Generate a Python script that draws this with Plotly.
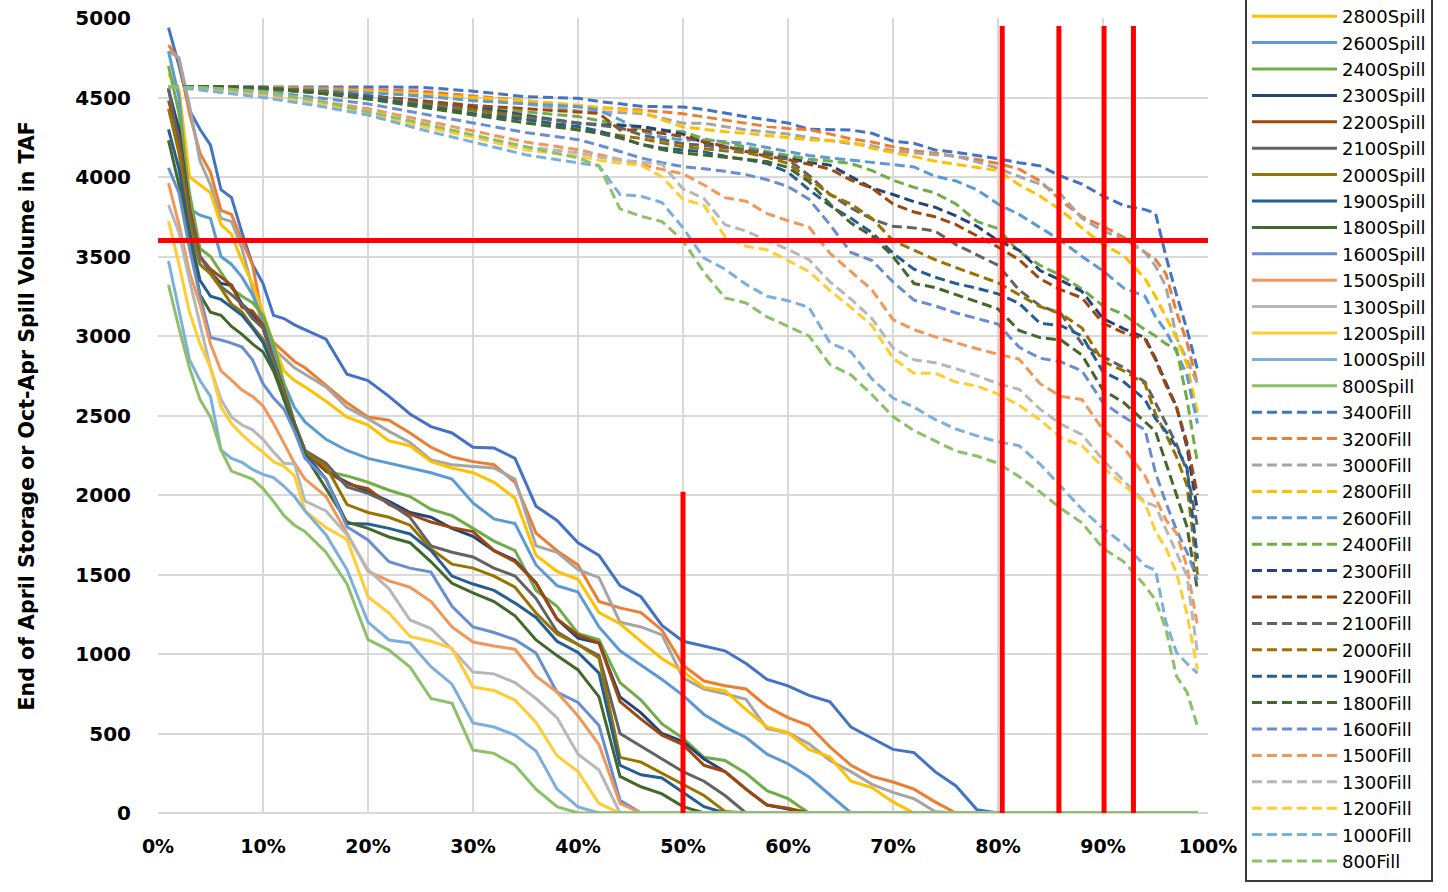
import plotly.graph_objects as go

# ---------------- data ----------------
LEVELS = ["3400", "3200", "3000", "2800", "2600", "2400", "2300", "2200", "2100",
          "2000", "1900", "1800", "1600", "1500", "1300", "1200", "1000", "800"]
COLORS = ["#4472C4", "#ED7D31", "#A5A5A5", "#FFC000", "#5B9BD5", "#70AD47", "#264478",
          "#9E480E", "#636363", "#997300", "#255E91", "#43682B", "#698ED0", "#F1975A",
          "#B7B7B7", "#FFCD33", "#7CAFDD", "#8CC168"]
HIDDEN_LEGEND = ["3400Spill", "3200Spill", "3000Spill"]

# exceedance percent (x) for Spill curves
X_SPILL = [1, 2, 3, 4, 5, 6, 7, 8, 9, 10, 11, 12, 13, 14,
           16, 18, 20, 22, 24, 26, 28, 30, 32, 34, 36, 38, 40, 42, 44, 46, 48, 50,
           52, 54, 56, 58, 60, 62, 64, 66, 68, 70, 72, 74, 76, 78, 80, 99]

SPILL_3400 = [4940, 4700, 4420, 4300, 4200, 3920, 3870, 3650, 3450, 3330, 3130, 3110, 3070, 3040,
              2980, 2760, 2720, 2620, 2510, 2430, 2390, 2300, 2296, 2230, 1930, 1840, 1700, 1620, 1430, 1360, 1180, 1080,
              1050, 1020, 940, 840, 800, 740, 700, 540, 470, 400, 380, 260, 170, 20, 0, 0]
SPILL_3200 = [4830, 4740, 4400, 4150, 4030, 3790, 3765, 3600, 3450, 3100, 2960, 2900, 2840, 2800,
              2690, 2580, 2490, 2470, 2390, 2300, 2240, 2210, 2190, 2080, 1760, 1650, 1560, 1330, 1290, 1260, 1150, 930,
              830, 800, 780, 670, 600, 550, 415, 300, 230, 195, 150, 70, 0, 0, 0, 0]
SPILL_3000 = [4790, 4750, 4450, 4100, 3950, 3740, 3720, 3550, 3300, 3050, 2920, 2860, 2800, 2760,
              2680, 2550, 2480, 2400, 2330, 2220, 2190, 2180, 2170, 2100, 1680, 1640, 1530, 1480, 1200, 1170, 1120, 850,
              780, 750, 715, 530, 505, 435, 330, 260, 180, 130, 90, 10, 0, 0, 0, 0]
SPILL_2800 = [4650, 4550, 4000, 3950, 3900, 3700, 3640, 3470, 3330, 3150, 2950, 2780, 2720, 2680,
              2590, 2490, 2440, 2340, 2310, 2210, 2170, 2140, 2080, 1980, 1620, 1520, 1470, 1260, 1190, 1080, 970, 890,
              790, 770, 650, 541, 505, 400, 352, 200, 160, 70, 0, 0, 0, 0, 0, 0]
SPILL_2600 = [4790, 4500, 3800, 3760, 3740, 3500, 3450, 3370, 3260, 3100, 2900, 2700, 2550, 2460,
              2350, 2280, 2230, 2200, 2170, 2140, 2100, 1950, 1850, 1820, 1560, 1430, 1390, 1170, 1020, 930, 840, 740,
              620, 540, 475, 370, 310, 226, 110, 0, 0, 0, 0, 0, 0, 0, 0, 0]
SPILL_2400 = [4700, 4400, 3900, 3550, 3500, 3400, 3300, 3250, 3210, 3130, 2950, 2700, 2450, 2260,
              2150, 2120, 2080, 2030, 1990, 1910, 1870, 1790, 1710, 1650, 1400, 1300, 1130, 1090, 820, 710, 560, 470,
              350, 330, 250, 140, 90, 0, 0, 0, 0, 0, 0, 0, 0, 0, 0, 0]
SPILL_2300 = [4550, 4300, 3800, 3500, 3400, 3330, 3320, 3200, 3140, 3050, 2850, 2650, 2450, 2280,
              2150, 2080, 2020, 1960, 1890, 1860, 1790, 1740, 1650, 1590, 1447, 1220, 1100, 1069, 730, 630, 500, 450,
              340, 260, 150, 50, 25, 0, 0, 0, 0, 0, 0, 0, 0, 0, 0, 0]
SPILL_2200 = [4480, 4250, 3800, 3500, 3420, 3370, 3320, 3180, 3157, 3070, 2850, 2650, 2450, 2280,
              2150, 2070, 2040, 1940, 1880, 1830, 1795, 1770, 1650, 1580, 1447, 1220, 1120, 1070, 700, 590, 490, 430,
              300, 260, 150, 50, 30, 0, 0, 0, 0, 0, 0, 0, 0, 0, 0, 0]
SPILL_2100 = [4560, 4200, 3750, 3500, 3400, 3310, 3260, 3200, 3110, 3050, 2850, 2650, 2450, 2280,
              2200, 2050, 2010, 1950, 1860, 1680, 1640, 1610, 1540, 1490, 1350, 1140, 1060, 990, 500, 420, 340, 260,
              200, 110, 0, 0, 0, 0, 0, 0, 0, 0, 0, 0, 0, 0, 0, 0]
SPILL_2000 = [4430, 4150, 3700, 3450, 3390, 3300, 3200, 3150, 3060, 2980, 2820, 2620, 2420, 2270,
              2180, 1940, 1890, 1860, 1810, 1660, 1565, 1540, 1490, 1420, 1258, 1125, 1060, 975, 350, 320, 250, 180,
              110, 10, 0, 0, 0, 0, 0, 0, 0, 0, 0, 0, 0, 0, 0, 0]
SPILL_1900 = [4300, 4050, 3650, 3350, 3250, 3230, 3180, 3130, 3050, 2960, 2800, 2600, 2420, 2260,
              2100, 1820, 1818, 1790, 1755, 1650, 1490, 1440, 1400, 1320, 1230, 1080, 1010, 880, 300, 240, 220, 130,
              40, 0, 0, 0, 0, 0, 0, 0, 0, 0, 0, 0, 0, 0, 0, 0]
SPILL_1800 = [4230, 3950, 3600, 3260, 3150, 3130, 3060, 3010, 2950, 2900, 2780, 2600, 2420, 2250,
              2040, 1830, 1790, 1736, 1700, 1580, 1445, 1384, 1330, 1240, 1088, 990, 900, 730, 230, 165, 120, 40,
              0, 0, 0, 0, 0, 0, 0, 0, 0, 0, 0, 0, 0, 0, 0, 0]
SPILL_1600 = [4057, 3900, 3550, 3250, 2990, 2975, 2955, 2930, 2850, 2700, 2610, 2540, 2400, 2230,
              2100, 1800, 1717, 1580, 1540, 1515, 1300, 1170, 1135, 1090, 1006, 760, 695, 550, 80, 0, 0, 0,
              0, 0, 0, 0, 0, 0, 0, 0, 0, 0, 0, 0, 0, 0, 0, 0]
SPILL_1500 = [3962, 3700, 3400, 3200, 2950, 2780, 2723, 2660, 2620, 2560, 2450, 2320, 2200, 2100,
              1990, 1760, 1520, 1460, 1420, 1330, 1170, 1075, 1050, 1030, 860, 760, 610, 430, 60, 0, 0, 0,
              0, 0, 0, 0, 0, 0, 0, 0, 0, 0, 0, 0, 0, 0, 0, 0]
SPILL_1300 = [3824, 3650, 3350, 3080, 2800, 2600, 2490, 2440, 2410, 2350, 2270, 2200, 2196, 1962,
              1900, 1750, 1530, 1410, 1214, 1160, 1030, 887, 875, 820, 720, 600, 370, 270, 0, 0, 0, 0,
              0, 0, 0, 0, 0, 0, 0, 0, 0, 0, 0, 0, 0, 0, 0, 0]
SPILL_1200 = [3723, 3450, 3150, 2950, 2800, 2553, 2450, 2380, 2320, 2270, 2210, 2180, 2120, 1900,
              1795, 1720, 1360, 1258, 1110, 1080, 1035, 792, 770, 710, 570, 360, 260, 60, 0, 0, 0, 0,
              0, 0, 0, 0, 0, 0, 0, 0, 0, 0, 0, 0, 0, 0, 0, 0]
SPILL_1000 = [3472, 3150, 2850, 2720, 2620, 2283, 2230, 2205, 2160, 2130, 2110, 2055, 1990, 1900,
              1750, 1530, 1200, 1088, 1069, 920, 810, 566, 541, 490, 390, 150, 38, 0, 0, 0, 0, 0,
              0, 0, 0, 0, 0, 0, 0, 0, 0, 0, 0, 0, 0, 0, 0, 0]
SPILL_800 = [3321, 3050, 2800, 2600, 2490, 2283, 2150, 2126, 2100, 2040, 1960, 1870, 1810, 1770,
             1640, 1440, 1090, 1025, 918, 720, 690, 396, 375, 300, 150, 40, 0, 0, 0, 0, 0, 0,
             0, 0, 0, 0, 0, 0, 0, 0, 0, 0, 0, 0, 0, 0, 0, 0]

# exceedance percent (x) for Fill curves
X_FILL = [1, 5, 10, 15, 20, 25, 30, 35, 40,
          42, 44, 46, 48, 50, 52, 54, 56, 58, 60, 62, 64, 66, 68, 70, 72, 74, 76, 78, 80,
          82, 84, 86, 88, 90, 92, 94, 95, 96, 97, 98, 99]

FILL_3400 = [4568, 4568, 4568, 4568, 4568, 4565, 4540, 4505, 4495,
             4475, 4460, 4445, 4442, 4440, 4425, 4400, 4379, 4360, 4340, 4300, 4296, 4296, 4275, 4225, 4212, 4170, 4155, 4135, 4115,
             4090, 4070, 4005, 3955, 3880, 3820, 3795, 3772, 3500, 3260, 3040, 2790]
FILL_3200 = [4568, 4568, 4565, 4560, 4550, 4540, 4510, 4480, 4445,
             4435, 4430, 4422, 4410, 4398, 4378, 4358, 4338, 4318, 4305, 4298, 4270, 4240, 4220, 4190, 4165, 4150, 4130, 4110, 4085,
             4050, 3975, 3850, 3750, 3690, 3620, 3530, 3480, 3390, 3150, 2960, 2700]
FILL_3000 = [4568, 4568, 4560, 4550, 4540, 4520, 4490, 4460, 4415,
             4410, 4405, 4400, 4370, 4338, 4338, 4318, 4296, 4285, 4270, 4248, 4228, 4210, 4196, 4165, 4152, 4140, 4130, 4095, 4055,
             4003, 3955, 3890, 3740, 3660, 3610, 3525, 3440, 3311, 2990, 2850, 2700]
FILL_2800 = [4568, 4568, 4560, 4550, 4540, 4520, 4500, 4480, 4452,
             4440, 4425, 4411, 4360, 4315, 4300, 4285, 4275, 4262, 4250, 4235, 4228, 4220, 4180, 4155, 4128, 4100, 4078, 4060, 4040,
             3952, 3880, 3790, 3680, 3575, 3505, 3360, 3248, 3122, 2990, 2820, 2514]
FILL_2600 = [4568, 4568, 4560, 4550, 4530, 4510, 4480, 4460, 4442,
             4421, 4360, 4290, 4250, 4233, 4233, 4222, 4212, 4185, 4160, 4135, 4120, 4108, 4092, 4078, 4063, 4005, 3975, 3920, 3830,
             3765, 3680, 3600, 3500, 3410, 3300, 3250, 3122, 3030, 2900, 2750, 2450]
FILL_2400 = [4568, 4560, 4550, 4530, 4500, 4470, 4440, 4410, 4380,
             4355, 4330, 4305, 4295, 4285, 4240, 4215, 4190, 4160, 4135, 4112, 4100, 4085, 4040, 3980, 3935, 3900, 3830, 3720, 3675,
             3530, 3445, 3380, 3295, 3190, 3135, 3040, 3000, 2950, 2920, 2600, 2200]
FILL_2300 = [4568, 4568, 4560, 4540, 4510, 4480, 4440, 4390, 4338,
             4330, 4325, 4318, 4295, 4270, 4215, 4190, 4170, 4145, 4120, 4092, 4075, 4000, 3930, 3890, 3845, 3810, 3755, 3690, 3600,
             3540, 3412, 3350, 3280, 3110, 3045, 2990, 2860, 2703, 2556, 2300, 1900]
FILL_2200 = [4568, 4568, 4560, 4540, 4510, 4480, 4450, 4430, 4411,
             4400, 4296, 4296, 4275, 4254, 4220, 4193, 4160, 4130, 4110, 4080, 4050, 3980, 3930, 3830, 3780, 3750, 3700, 3630, 3560,
             3480, 3360, 3290, 3240, 3080, 3020, 2980, 2850, 2690, 2550, 2330, 2000]
FILL_2100 = [4568, 4568, 4560, 4540, 4510, 4470, 4430, 4380, 4338,
             4325, 4310, 4265, 4235, 4210, 4198, 4185, 4172, 4150, 4110, 4010, 3890, 3805, 3735, 3690, 3680, 3660, 3575, 3510, 3445,
             3290, 3190, 3140, 2950, 2870, 2800, 2710, 2580, 2450, 2320, 2150, 1800]
FILL_2000 = [4568, 4568, 4560, 4540, 4500, 4460, 4420, 4370, 4298,
             4280, 4262, 4242, 4215, 4190, 4178, 4165, 4152, 4125, 4085, 3990, 3890, 3830, 3740, 3600, 3540, 3480, 3430, 3380, 3335,
             3260, 3185, 3140, 3050, 2840, 2780, 2700, 2510, 2380, 2240, 2060, 1500]
FILL_1900 = [4568, 4568, 4560, 4530, 4500, 4450, 4400, 4360, 4317,
             4290, 4250, 4205, 4182, 4170, 4158, 4130, 4110, 4085, 4030, 3920, 3820, 3740, 3650, 3520, 3420, 3370, 3330, 3300, 3265,
             3206, 3080, 3065, 3000, 2775, 2710, 2600, 2480, 2400, 2300, 2170, 1600]
FILL_1800 = [4568, 4568, 4560, 4530, 4490, 4440, 4390, 4340, 4296,
             4275, 4245, 4205, 4172, 4150, 4138, 4125, 4110, 4097, 4060, 3970, 3830, 3710, 3630, 3500, 3330, 3305, 3260, 3215, 3170,
             3035, 2990, 2975, 2880, 2660, 2580, 2460, 2400, 2200, 2000, 1800, 1400]
FILL_1600 = [4568, 4560, 4540, 4500, 4460, 4400, 4340, 4280, 4235,
             4200, 4160, 4120, 4090, 4065, 4052, 4036, 4015, 3983, 3940, 3860, 3700, 3525, 3475, 3340, 3225, 3190, 3145, 3110, 3075,
             2930, 2860, 2838, 2780, 2580, 2490, 2410, 2140, 1950, 1780, 1640, 1465]
FILL_1500 = [4568, 4550, 4520, 4480, 4430, 4360, 4290, 4220, 4172,
             4140, 4110, 4080, 4048, 4020, 3950, 3870, 3848, 3770, 3725, 3685, 3520, 3405, 3290, 3103, 3040, 2995, 2955, 2920, 2885,
             2855, 2700, 2620, 2600, 2410, 2295, 2120, 1980, 1843, 1759, 1549, 1174]
FILL_1300 = [4568, 4550, 4510, 4470, 4410, 4330, 4260, 4190, 4152,
             4125, 4105, 4095, 4080, 3925, 3865, 3700, 3660, 3605, 3545, 3480, 3340, 3232, 3110, 2925, 2850, 2832, 2795, 2750, 2700,
             2665, 2540, 2445, 2380, 2220, 2090, 1955, 1930, 1780, 1633, 1490, 1006]
FILL_1200 = [4568, 4545, 4505, 4460, 4400, 4320, 4250, 4170, 4131,
             4105, 4087, 4075, 4000, 3860, 3822, 3625, 3564, 3542, 3475, 3405, 3285, 3180, 3065, 2860, 2766, 2766, 2710, 2685, 2635,
             2565, 2472, 2360, 2310, 2175, 2060, 1950, 1770, 1665, 1510, 1250, 902]
FILL_1000 = [4568, 4540, 4500, 4450, 4390, 4300, 4220, 4140, 4089,
             4070, 3890, 3879, 3840, 3680, 3490, 3420, 3325, 3250, 3222, 3180, 2957, 2900, 2730, 2610, 2553, 2475, 2415, 2372, 2335,
             2310, 2195, 2050, 1910, 1790, 1690, 1555, 1528, 1200, 1010, 940, 880]
FILL_800 = [4568, 4560, 4535, 4485, 4410, 4340, 4265, 4190, 4120,
            4070, 3800, 3753, 3720, 3600, 3400, 3240, 3208, 3120, 3061, 3000, 2820, 2755, 2630, 2493, 2405, 2340, 2276, 2245, 2200,
            2116, 2020, 1915, 1825, 1665, 1580, 1430, 1340, 1153, 860, 760, 545]

SPILL_SERIES = [SPILL_3400, SPILL_3200, SPILL_3000, SPILL_2800, SPILL_2600, SPILL_2400,
                SPILL_2300, SPILL_2200, SPILL_2100, SPILL_2000, SPILL_1900, SPILL_1800,
                SPILL_1600, SPILL_1500, SPILL_1300, SPILL_1200, SPILL_1000, SPILL_800]
FILL_SERIES = [FILL_3400, FILL_3200, FILL_3000, FILL_2800, FILL_2600, FILL_2400,
               FILL_2300, FILL_2200, FILL_2100, FILL_2000, FILL_1900, FILL_1800,
               FILL_1600, FILL_1500, FILL_1300, FILL_1200, FILL_1000, FILL_800]

# red reference lines
RED_H_Y = 3600
RED_V_X = [50, 80.4, 85.8, 90.1, 92.9]
RED_V_TOP = [2020, 4950, 4950, 4950, 4950]

for s in SPILL_SERIES:
    assert len(s) == len(X_SPILL), len(s)
for s in FILL_SERIES:
    assert len(s) == len(X_FILL), len(s)

# ---------------- figure ----------------
fig = go.Figure()
for lvl, col, ys in zip(LEVELS, COLORS, SPILL_SERIES):
    name = lvl + "Spill"
    fig.add_trace(go.Scatter(x=X_SPILL, y=ys, mode="lines", name=name,
                             line=dict(color=col, width=3),
                             showlegend=name not in HIDDEN_LEGEND))
for lvl, col, ys in zip(LEVELS, COLORS, FILL_SERIES):
    fig.add_trace(go.Scatter(x=X_FILL, y=ys, mode="lines", name=lvl + "Fill",
                             line=dict(color=col, width=3, dash="10px,5px")))

fig.add_shape(type="line", x0=0, x1=100, y0=RED_H_Y, y1=RED_H_Y, xref="x", yref="y",
              line=dict(color="#FF0000", width=5))
for vx, vt in zip(RED_V_X, RED_V_TOP):
    fig.add_shape(type="line", x0=vx, x1=vx, y0=0, y1=vt, xref="x", yref="y",
                  line=dict(color="#FF0000", width=5))

FONT = "DejaVu Sans"
fig.add_annotation(text="End of April Storage or Oct-Apr Spill Volume in TAF",
                   xref="paper", yref="paper", x=-0.1248, y=0.5, textangle=-90,
                   showarrow=False, xanchor="center", yanchor="middle",
                   font=dict(family=FONT, size=20.5, color="#000000", weight="bold"))

fig.update_layout(
    width=1448, height=892,
    margin=dict(l=158, r=240, t=18, b=79, autoexpand=False),
    paper_bgcolor="white", plot_bgcolor="white",
    font=dict(family=FONT, color="#000000"),
    xaxis=dict(range=[0, 100], dtick=10, tick0=0, ticksuffix="%", showgrid=True,
               gridcolor="#D9D9D9", gridwidth=1.5, zeroline=False, showline=False,
               ticks="", ticklabelstandoff=20,
               tickfont=dict(family=FONT, size=19, color="#000000", weight="bold")),
    yaxis=dict(range=[0, 5000], dtick=500, tick0=0, showgrid=True,
               gridcolor="#D9D9D9", gridwidth=1.5, zeroline=True, zerolinecolor="#D9D9D9",
               zerolinewidth=1.5, showline=False, ticks="", ticklabelstandoff=26,
               tickfont=dict(family=FONT, size=20, color="#000000", weight="bold")),
    legend=dict(x=1.0352, y=-0.0868, xanchor="left", yanchor="bottom",
                bgcolor="white", bordercolor="#3A3A3A", borderwidth=2,
                font=dict(family=FONT, size=18, color="#000000"),
                itemwidth=85, tracegroupgap=0, maxheight=892),
    showlegend=True,
)

fig.write_html("out.html")
